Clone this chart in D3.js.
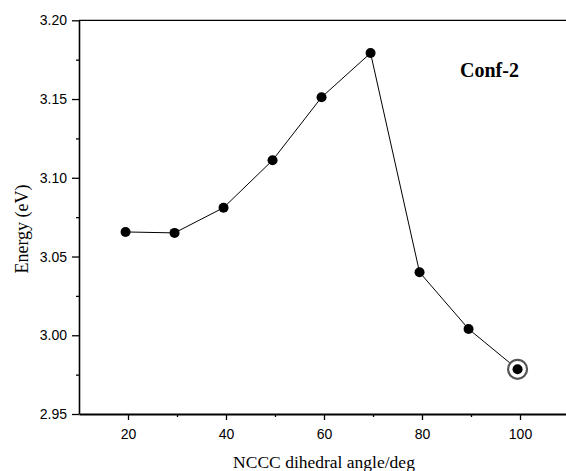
<!DOCTYPE html>
<html>
<head>
<meta charset="utf-8">
<script src="https://cdn.jsdelivr.net/npm/d3@7"></script>
<style>
  body { margin: 0; background: #fff; }
  svg { display: block; }
</style>
</head>
<body>
<div id="chart"></div>
<script>
// Conf-2 energy vs NCCC dihedral angle

var angles = [19.5, 29.5, 39.5, 49.5, 59.5, 69.5, 79.5, 89.5, 99.5];
var energies = [3.0656, 3.0650, 3.0810, 3.1111, 3.1511, 3.1792, 3.0400, 3.0040, 2.9784];
var xTicks = [20, 40, 60, 80, 100];
var xMinorTicks = [30, 50, 70, 90];
var yTicks = [2.95, 3.00, 3.05, 3.10, 3.15, 3.20];
var yMinorTicks = [2.975, 3.025, 3.075, 3.125, 3.175];
var highlighted = [99.5];

var svgWidth = 566;
var svgHeight = 471;

var margin = {
  top: 20.3,
  right: -3,
  bottom: 57,
  left: 79
};

var width = svgWidth - margin.left - margin.right;
var height = svgHeight - margin.top - margin.bottom;

var svg = d3
  .select("#chart")
  .append("svg")
  .attr("width", svgWidth)
  .attr("height", svgHeight);

var chartGroup = svg.append("g")
  .attr("transform", `translate(${margin.left}, ${margin.top})`);

var xScale = d3.scaleLinear()
  .domain([10, 110])
  .range([0, width]);

var yLinearScale = d3.scaleLinear()
  .domain([2.95, 3.20])
  .range([height, 0]);

var data = angles.map(function(a, i) { return {"angle": a, "energy": energies[i]}; });

// top frame line
chartGroup.append("line")
  .attr("x1", xScale(10))
  .attr("x2", xScale(110))
  .attr("y1", yLinearScale(3.20))
  .attr("y2", yLinearScale(3.20))
  .attr("stroke", "#000")
  .attr("stroke-width", 1.3);

// minor ticks
chartGroup.append("g")
  .attr("transform", `translate(0, ${height})`)
  .call(d3.axisBottom(xScale).tickValues(xMinorTicks).tickSize(3).tickFormat(""))
  .call(g => g.select(".domain").remove())
  .selectAll("line").attr("stroke-width", 1.3);

chartGroup.append("g")
  .call(d3.axisLeft(yLinearScale).tickValues(yMinorTicks).tickSize(3).tickFormat(""))
  .call(g => g.select(".domain").remove())
  .selectAll("line").attr("stroke-width", 1.3);

var bottomAxis = d3.axisBottom(xScale)
  .tickValues(xTicks)
  .tickSize(6)
  .tickSizeOuter(0)
  .tickPadding(9);

var leftAxis = d3.axisLeft(yLinearScale)
  .tickValues(yTicks)
  .tickSize(7)
  .tickSizeOuter(0)
  .tickPadding(5)
  .tickFormat(d3.format(".2f"));

var xAxisGroup = chartGroup.append("g")
  .attr("transform", `translate(0, ${height})`)
  .call(bottomAxis)
  .attr("font-size", "14px")
  .attr("font-family", "'Liberation Sans', Arial, sans-serif");
xAxisGroup.select(".domain").attr("stroke-width", 2);
xAxisGroup.selectAll(".tick line").attr("stroke-width", 1.3);

var yAxisGroup = chartGroup.append("g")
  .call(leftAxis)
  .attr("font-size", "14px")
  .attr("font-family", "'Liberation Sans', Arial, sans-serif");
yAxisGroup.select(".domain").attr("stroke-width", 1.6);
yAxisGroup.selectAll(".tick line").attr("stroke-width", 1.3);

// axis titles
svg.append("text")
  .attr("x", margin.left + xScale(60))
  .attr("y", 468)
  .style("text-anchor", "middle")
  .attr("font-family", "'Liberation Serif', 'Times New Roman', serif")
  .attr("font-size", "17.5px")
  .text("NCCC dihedral angle/deg");

svg.append("text")
  .attr("transform", "rotate(-90)")
  .attr("x", -229)
  .attr("y", 28)
  .style("text-anchor", "middle")
  .attr("font-family", "'Liberation Serif', 'Times New Roman', serif")
  .attr("font-size", "18px")
  .text("Energy (eV)");

svg.append("text")
  .attr("x", 460)
  .attr("y", 77)
  .attr("font-family", "'Liberation Serif', 'Times New Roman', serif")
  .attr("font-size", "20px")
  .attr("font-weight", "bold")
  .text("Conf-2");

// line + points
var line = d3.line()
  .x(function(d) { return xScale(d.angle); })
  .y(function(d) { return yLinearScale(d.energy); });

chartGroup.append("path")
  .datum(data)
  .attr("d", line)
  .attr("fill", "none")
  .attr("stroke", "#000")
  .attr("stroke-width", 1);

chartGroup.append("g")
  .selectAll("circle")
  .data(data.filter(function(d) { return highlighted.indexOf(d.angle) >= 0; }))
  .enter()
  .append("circle")
  .attr("cx", function(d) { return xScale(d.angle); })
  .attr("cy", function(d) { return yLinearScale(d.energy); })
  .attr("r", 9.5)
  .attr("fill", "#fff")
  .attr("stroke", "#555")
  .attr("stroke-width", 2.2);

chartGroup.append("g")
  .selectAll("circle")
  .data(data)
  .enter()
  .append("circle")
  .attr("cx", function(d) { return xScale(d.angle); })
  .attr("cy", function(d) { return yLinearScale(d.energy); })
  .attr("r", 5)
  .style("fill", "#000");
</script>
</body>
</html>
